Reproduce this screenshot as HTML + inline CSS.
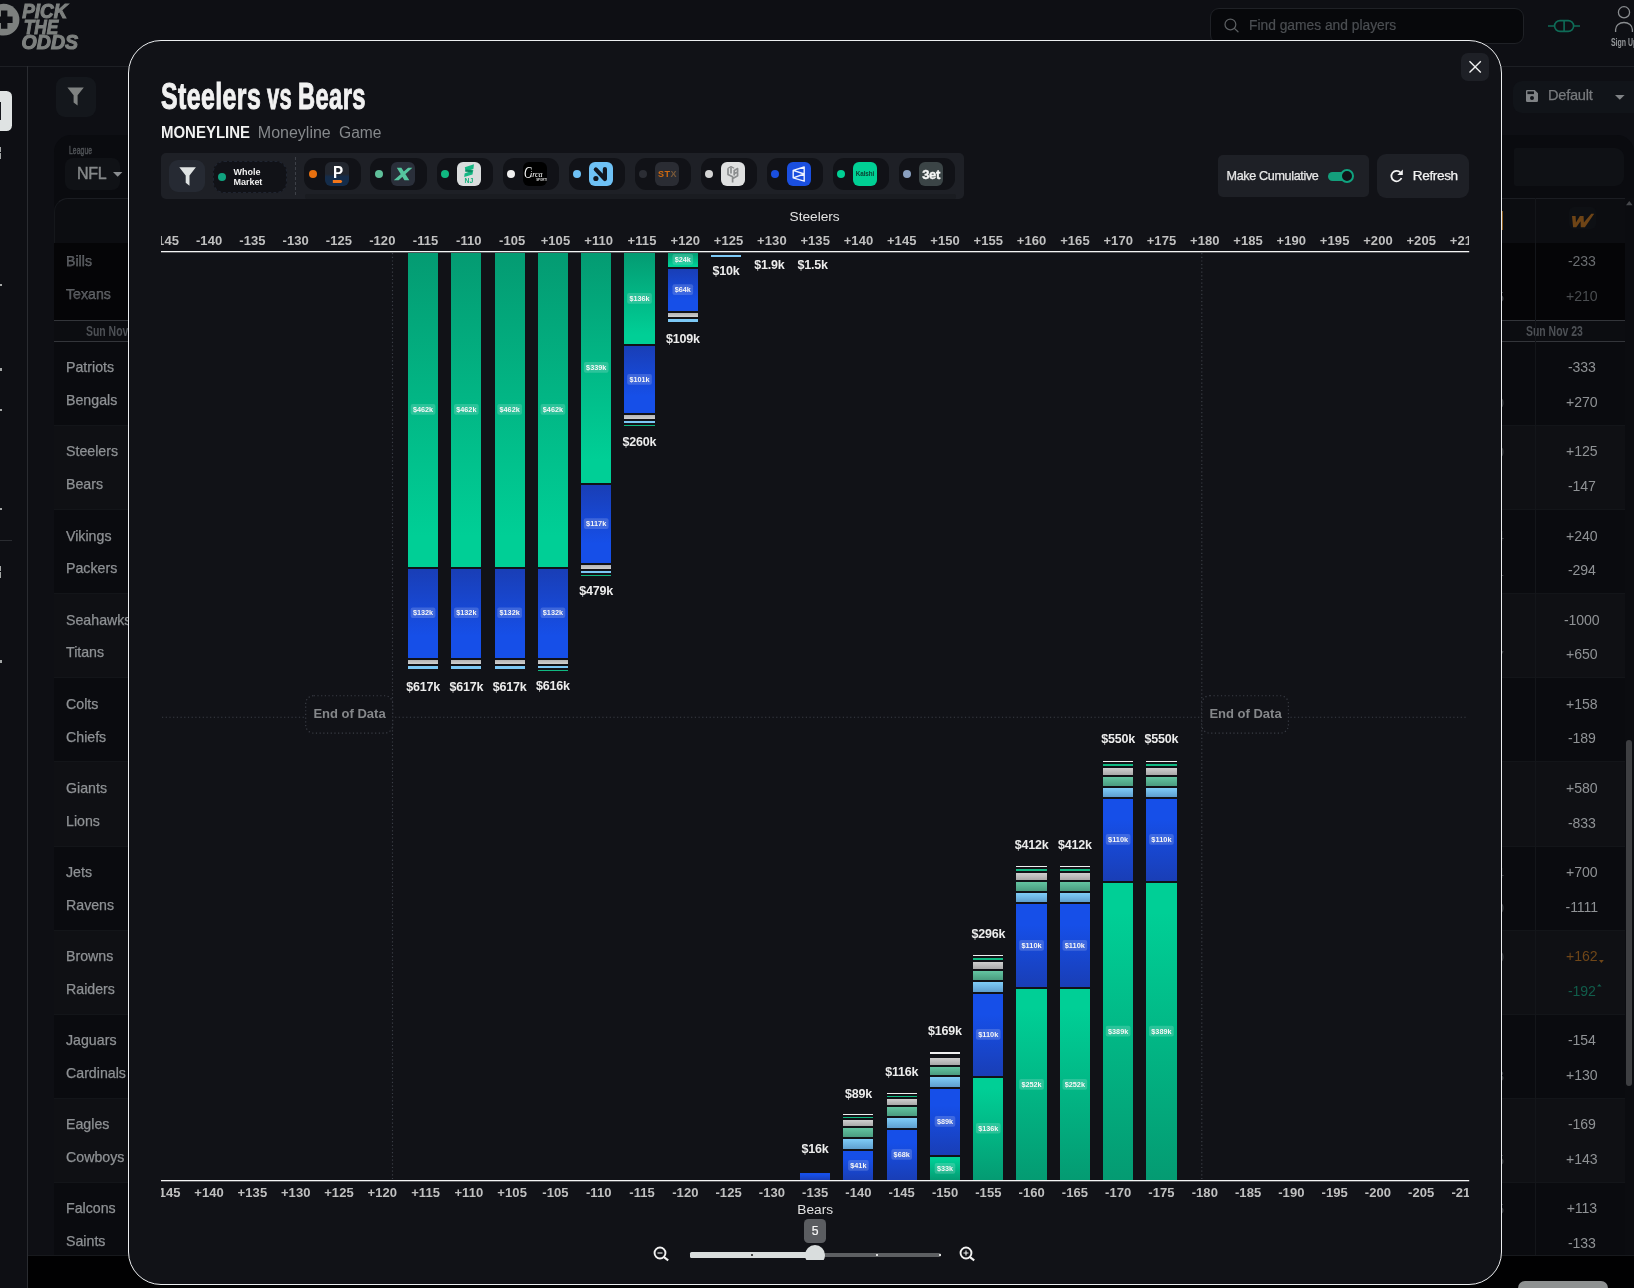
<!DOCTYPE html>
<html lang="en"><head><meta charset="utf-8"><title>Steelers vs Bears - Moneyline</title>
<style>
*{box-sizing:border-box;margin:0;padding:0}
html,body{width:1634px;height:1288px;overflow:hidden;background:#0e0f14;font-family:"Liberation Sans", sans-serif;color:#e6e6e6}
.abs{position:absolute}
#root{position:absolute;left:0;top:0;width:1634px;height:1288px;overflow:hidden;will-change:transform}
#page{position:absolute;left:0;top:0;width:1634px;height:1288px;overflow:hidden}
#modal{position:absolute;left:128px;top:40px;width:1374px;height:1245px;background:#111217;border:1.5px solid #eceef0;border-radius:33px}
.t{position:absolute;white-space:nowrap;line-height:1}
.team{position:absolute;left:66px;font-size:14.2px;color:#8e9194;-webkit-text-stroke:0.25px #8e9194;white-space:nowrap;line-height:1}
.odd{position:absolute;width:80px;left:1541.8px;text-align:center;font-size:14.1px;letter-spacing:-0.1px;color:#8f9295;white-space:nowrap;line-height:1}
.chip{position:absolute;top:158px;height:32px;border-radius:11px;background:#111217}
.dot{position:absolute;right:43.9px;top:12px;width:8px;height:8px;border-radius:50%}
.ico{position:absolute;right:11.8px;top:4px;width:24px;height:24px;border-radius:6px;overflow:hidden}
</style></head>
<body>
<div id="root">
<div id="page">
<div class="abs" style="left:0;top:66px;width:1634px;height:1px;background:#1d1f24"></div>
<div class="abs" style="left:27px;top:66px;width:1px;height:1222px;background:#2a2c31"></div>
<div class="abs" style="left:-20px;top:91px;width:32.3px;height:40px;border-radius:5.5px;background:#dfe3e3"></div>
<div class="abs" style="left:0;top:102px;width:1px;height:18px;background:#16181d"></div>
<div class="abs" style="left:0;top:147px;width:1.4px;height:4.5px;background:#a4a7a7"></div>
<div class="abs" style="left:0;top:153px;width:1.4px;height:5.5px;background:#a4a7a7"></div>
<div class="abs" style="left:0;top:284px;width:1.5px;height:2px;background:#a4a7a7"></div>
<div class="abs" style="left:0;top:368px;width:2px;height:2.5px;background:#a4a7a7"></div>
<div class="abs" style="left:0;top:409px;width:1.5px;height:2px;background:#a4a7a7"></div>
<div class="abs" style="left:0;top:508px;width:1.5px;height:2px;background:#a4a7a7"></div>
<div class="abs" style="left:0;top:566px;width:1.4px;height:4.5px;background:#a4a7a7"></div>
<div class="abs" style="left:0;top:572px;width:1.4px;height:5.5px;background:#a4a7a7"></div>
<div class="abs" style="left:0;top:660px;width:2px;height:2.5px;background:#a4a7a7"></div>
<div class="abs" style="left:0;top:540px;width:12px;height:1px;background:#2a2c31"></div>
<svg class="abs" style="left:0;top:0" width="100" height="60" viewBox="0 0 100 60"><circle cx="3.5" cy="19.7" r="15.9" fill="#7d807f"/><path d="M1 10.6h6.4v5.9h5.2v6.4H7.4v5.9H1v-5.9h-6v-6.4h6z" fill="#0e0f14"/><rect x="-4" y="12" width="8" height="15" fill="#7d807f" opacity="0"/><g font-family='"Liberation Sans", sans-serif' font-weight="700" font-style="italic" font-size="20.3" fill="#7d807f" stroke="#7d807f" stroke-width="1.1"><text x="22.3" y="18.2" textLength="45" lengthAdjust="spacingAndGlyphs">PICK</text><text x="23.8" y="33.6" textLength="34.5" lengthAdjust="spacingAndGlyphs">THE</text><text x="21.6" y="49.3" textLength="56.5" lengthAdjust="spacingAndGlyphs">ODDS</text></g></svg>
<div class="abs" style="left:56px;top:77px;width:40px;height:40px;border-radius:9px;background:#14171c"></div>
<svg class="abs" style="left:66.8px;top:87.4px" width="18" height="20" viewBox="0 0 18 20"><path d="M0.4 0.4h16.4L10.6 8.3v10.3L6.6 15.6V8.3z" fill="#7f8281"/></svg>
<div class="abs" style="left:54px;top:135px;width:120px;height:80px;border-radius:17px 0 0 0;background:#0a0b0f"></div>
<div class="t" style="left:69.2px;top:144.8px;font-size:10.5px;color:#4f5256;transform:scaleX(0.64);transform-origin:0 0;letter-spacing:0.2px;-webkit-text-stroke:0.5px #4f5256">League</div>
<div class="abs" style="left:65px;top:158px;width:54.5px;height:32px;border-radius:8px;background:#101216"></div>
<div class="t" style="left:77px;top:165.6px;font-size:16px;color:#858889;letter-spacing:-0.35px;-webkit-text-stroke:0.45px #858889">NFL</div>
<svg class="abs" style="left:113.4px;top:171.6px" width="10" height="6"><path d="M0 0h9.4L4.7 4.8z" fill="#8a8d90"/></svg>
<div class="abs" style="left:53.5px;top:198px;width:120px;height:1057px;border-radius:14px 0 0 0;background:#0c0d11;border-top:1px solid #1b1d22;border-left:1px solid #15171b"></div>
<div class="abs" style="left:54px;top:242.5px;width:120px;height:77.5px;background:#050507"></div>
<div class="abs" style="left:54px;top:320px;width:120px;height:21.5px;background:#0c0d11;border-top:1px solid #33353a;border-bottom:1px solid #33353a"></div>
<div class="t" style="left:86px;top:323.6px;font-size:14.5px;font-weight:700;color:#4d5055;transform:scaleX(0.72);transform-origin:0 0">Sun Nov 23</div>
<div class="abs" style="left:54px;top:342px;width:120px;height:83.83px;background:#0a0b0f;"></div>
<div class="team" style="top:360.30px">Patriots</div>
<div class="team" style="top:393.10px">Bengals</div>
<div class="abs" style="left:54px;top:425.0px;width:120px;height:85px;background:#0f1014;border-top:1px solid #131519"></div>
<div class="team" style="top:444.40px">Steelers</div>
<div class="team" style="top:477.20px">Bears</div>
<div class="abs" style="left:54px;top:509.1px;width:120px;height:85px;background:#0a0b0f;border-top:1px solid #131519"></div>
<div class="team" style="top:528.50px">Vikings</div>
<div class="team" style="top:561.30px">Packers</div>
<div class="abs" style="left:54px;top:593.2px;width:120px;height:85px;background:#0f1014;border-top:1px solid #131519"></div>
<div class="team" style="top:612.60px">Seahawks</div>
<div class="team" style="top:645.40px">Titans</div>
<div class="abs" style="left:54px;top:677.3px;width:120px;height:85px;background:#0a0b0f;border-top:1px solid #131519"></div>
<div class="team" style="top:696.70px">Colts</div>
<div class="team" style="top:729.50px">Chiefs</div>
<div class="abs" style="left:54px;top:761.4px;width:120px;height:85px;background:#0f1014;border-top:1px solid #131519"></div>
<div class="team" style="top:780.80px">Giants</div>
<div class="team" style="top:813.60px">Lions</div>
<div class="abs" style="left:54px;top:845.5px;width:120px;height:85px;background:#0a0b0f;border-top:1px solid #131519"></div>
<div class="team" style="top:864.90px">Jets</div>
<div class="team" style="top:897.70px">Ravens</div>
<div class="abs" style="left:54px;top:929.6px;width:120px;height:85px;background:#0f1014;border-top:1px solid #131519"></div>
<div class="team" style="top:949.00px">Browns</div>
<div class="team" style="top:981.80px">Raiders</div>
<div class="abs" style="left:54px;top:1013.7px;width:120px;height:85px;background:#0a0b0f;border-top:1px solid #131519"></div>
<div class="team" style="top:1033.10px">Jaguars</div>
<div class="team" style="top:1065.90px">Cardinals</div>
<div class="abs" style="left:54px;top:1097.8px;width:120px;height:85px;background:#0f1014;border-top:1px solid #131519"></div>
<div class="team" style="top:1117.20px">Eagles</div>
<div class="team" style="top:1150.00px">Cowboys</div>
<div class="abs" style="left:54px;top:1181.9px;width:120px;height:73.1px;background:#0a0b0f;border-top:1px solid #131519"></div>
<div class="team" style="top:1201.30px">Falcons</div>
<div class="team" style="top:1234.10px">Saints</div>
<div class="team" style="top:254.2px;color:#4a4d52">Bills</div>
<div class="team" style="top:287.2px;color:#4a4d52">Texans</div>
<div class="abs" style="left:28px;top:1255px;width:1606px;height:33px;background:#010102;border-top:1px solid #17191d"></div>
<div class="abs" style="left:1518.3px;top:1281.3px;width:90px;height:14px;border-radius:7px;background:#8e9191"></div>
<div class="abs" style="left:1210px;top:8px;width:314px;height:36px;border-radius:9px;background:#07080b;border:1px solid #1f2126"></div>
<svg class="abs" style="left:1223.4px;top:17.2px" width="18" height="18" viewBox="0 0 18 18"><circle cx="7.4" cy="7.4" r="5.4" fill="none" stroke="#5c5f62" stroke-width="1.25"/><path d="M11.4 11.4L15 14.8" stroke="#5c5f62" stroke-width="1.25" stroke-linecap="round"/></svg>
<div class="t" style="left:1249px;top:19.2px;font-size:13.8px;color:#4b4e52;-webkit-text-stroke:0.2px #4b4e52">Find games and players</div>
<svg class="abs" style="left:1546px;top:18px" width="36" height="16" viewBox="0 0 36 16"><g fill="none" stroke="#0f6b57" stroke-width="1.6"><rect x="8.6" y="2.6" width="19" height="10.8" rx="5.4"/><path d="M2 8h6.6M27.6 8h6.4M18.1 2.6v10.8"/></g></svg>
<svg class="abs" style="left:1610px;top:4px" width="28" height="30" viewBox="0 0 28 30"><g fill="none" stroke="#8a8d90" stroke-width="1.3"><circle cx="14" cy="8.3" r="5.6"/><path d="M5.6 28v-2.5a8.4 7 0 0 1 16.8 0V28"/></g></svg>
<div class="t" style="left:1610.5px;top:36.6px;font-size:10.5px;font-weight:700;color:#94979a;transform:scaleX(0.66);transform-origin:0 0">Sign Up</div>
<div class="abs" style="left:1512.5px;top:81px;width:130px;height:32px;border-radius:9px;background:#111419"></div>
<svg class="abs" style="left:1526px;top:90.3px" width="12" height="12" viewBox="0 0 12 12"><path d="M1.3 0h7.4L12 3.3v7.4A1.3 1.3 0 0 1 10.7 12H1.3A1.3 1.3 0 0 1 0 10.7V1.3A1.3 1.3 0 0 1 1.3 0z" fill="#7f8285"/><rect x="1.4" y="1.4" width="6.6" height="2.7" fill="#111419"/><circle cx="6" cy="8" r="2" fill="#111419"/></svg>
<div class="t" style="left:1548px;top:87.8px;font-size:14.6px;color:#777a7d;letter-spacing:-0.25px;-webkit-text-stroke:0.25px #777a7d">Default</div>
<svg class="abs" style="left:1615.2px;top:94.7px" width="10" height="6"><path d="M0 0h9.6L4.8 4.8z" fill="#808386"/></svg>
<div class="abs" style="left:1480px;top:135px;width:154px;height:70px;border-radius:0 17px 0 0;background:#0a0b0f"></div>
<div class="abs" style="left:1514px;top:148px;width:109.5px;height:37.5px;border-radius:2px 9px 9px 2px;background:#0f1115"></div>
<div class="abs" style="left:1480px;top:198px;width:144.5px;height:1057px;background:#0c0d11;border-top:1px solid #1b1d22"></div>
<div class="abs" style="left:1624.5px;top:198px;width:10px;height:1057px;background:#0b0c10"></div>
<div class="abs" style="left:1480px;top:242.5px;width:144.5px;height:77.5px;background:#050507"></div>
<div class="abs" style="left:1480px;top:320px;width:144.5px;height:21.5px;background:#0c0d11;border-top:1px solid #33353a;border-bottom:1px solid #33353a"></div>
<div class="t" style="left:1526px;top:323.6px;font-size:14.5px;font-weight:700;color:#4d5055;transform:scaleX(0.72);transform-origin:0 0">Sun Nov 23</div>
<div class="abs" style="left:1480px;top:342px;width:144.5px;height:83.83px;background:#0a0b0f;"></div>
<div class="odd" style="top:360.30px;color:#8f9295">-333</div>
<div class="odd" style="top:395.00px;color:#8f9295">+270</div>
<div class="abs" style="left:1480px;top:425.0px;width:144.5px;height:85px;background:#0f1014;border-top:1px solid #131519"></div>
<div class="odd" style="top:444.40px;color:#8f9295">+125</div>
<div class="odd" style="top:479.10px;color:#8f9295">-147</div>
<div class="abs" style="left:1480px;top:509.1px;width:144.5px;height:85px;background:#0a0b0f;border-top:1px solid #131519"></div>
<div class="odd" style="top:528.50px;color:#8f9295">+240</div>
<div class="odd" style="top:563.20px;color:#8f9295">-294</div>
<div class="abs" style="left:1480px;top:593.2px;width:144.5px;height:85px;background:#0f1014;border-top:1px solid #131519"></div>
<div class="odd" style="top:612.60px;color:#8f9295">-1000</div>
<div class="odd" style="top:647.30px;color:#8f9295">+650</div>
<div class="abs" style="left:1480px;top:677.3px;width:144.5px;height:85px;background:#0a0b0f;border-top:1px solid #131519"></div>
<div class="odd" style="top:696.70px;color:#8f9295">+158</div>
<div class="odd" style="top:731.40px;color:#8f9295">-189</div>
<div class="abs" style="left:1480px;top:761.4px;width:144.5px;height:85px;background:#0f1014;border-top:1px solid #131519"></div>
<div class="odd" style="top:780.80px;color:#8f9295">+580</div>
<div class="odd" style="top:815.50px;color:#8f9295">-833</div>
<div class="abs" style="left:1480px;top:845.5px;width:144.5px;height:85px;background:#0a0b0f;border-top:1px solid #131519"></div>
<div class="odd" style="top:864.90px;color:#8f9295">+700</div>
<div class="odd" style="top:899.60px;color:#8f9295">-1111</div>
<div class="abs" style="left:1480px;top:929.6px;width:144.5px;height:85px;background:#0f1014;border-top:1px solid #131519"></div>
<div class="odd" style="top:949.00px;color:#6f4618">+162</div>
<div class="odd" style="top:983.70px;color:#115d4b">-192</div>
<div class="abs" style="left:1480px;top:1013.7px;width:144.5px;height:85px;background:#0a0b0f;border-top:1px solid #131519"></div>
<div class="odd" style="top:1033.10px;color:#8f9295">-154</div>
<div class="odd" style="top:1067.80px;color:#8f9295">+130</div>
<div class="abs" style="left:1480px;top:1097.8px;width:144.5px;height:85px;background:#0f1014;border-top:1px solid #131519"></div>
<div class="odd" style="top:1117.20px;color:#8f9295">-169</div>
<div class="odd" style="top:1151.90px;color:#8f9295">+143</div>
<div class="abs" style="left:1480px;top:1181.9px;width:144.5px;height:73.1px;background:#0a0b0f;border-top:1px solid #131519"></div>
<div class="odd" style="top:1201.30px;color:#8f9295">+113</div>
<div class="odd" style="top:1236.00px;color:#8f9295">-133</div>
<div class="odd" style="top:254.3px;color:#6a6d70">-233</div>
<div class="odd" style="top:289.3px;color:#4a4d50">+210</div>
<svg class="abs" style="left:1598.5px;top:960.2px" width="6" height="4"><path d="M0 0h4.8L2.4 3.1z" fill="#6f4618"/></svg>
<svg class="abs" style="left:1596.7px;top:983.7px" width="6" height="4"><path d="M0 2.4h4.6L2.3 0z" fill="#115d4b"/></svg>
<div class="abs" style="left:1535px;top:198px;width:1px;height:1057px;background:#14161a"></div>
<div class="abs" style="left:1569.3px;top:206.8px;width:26.5px;height:22px;border-radius:5px;background:#0e1014"></div>
<svg class="abs" style="left:1571px;top:213px" width="25" height="16" viewBox="0 0 25 16"><path d="M1 3.1H4.6L5 9.6 8.9 3.1H12.55L12.9 9.4 20.25 0.8H23.2L13.9 14.2H9.8L9.6 8.2 5.3 14.2H2.1z" fill="#6e4416"/></svg>
<div class="abs" style="left:1499px;top:211px;width:4px;height:19px;background:#8a5a1a"></div>
<svg class="abs" style="left:1625.6px;top:201.4px" width="8" height="6"><path d="M0 4.2h6.6L3.3 0z" fill="#46484c"/></svg>
<div class="abs" style="left:1626px;top:740px;width:6px;height:346px;border-radius:3px;background:#3e3f42"></div>
<div class="t" style="left:1496px;top:289.5px;font-size:14.5px;color:#3c3f43">5</div>
<div class="t" style="left:1496px;top:395.5px;font-size:14.5px;color:#3c3f43">0</div>
<div class="t" style="left:1496px;top:444.5px;font-size:14.5px;color:#3c3f43">0</div>
<div class="t" style="left:1496px;top:528.5px;font-size:14.5px;color:#3c3f43">4</div>
<div class="t" style="left:1496px;top:563.5px;font-size:14.5px;color:#3c3f43">1</div>
<div class="t" style="left:1496px;top:648.5px;font-size:14.5px;color:#3c3f43">7</div>
<div class="t" style="left:1496px;top:866px;font-size:14.5px;color:#3c3f43">4</div>
<div class="t" style="left:1496px;top:901px;font-size:14.5px;color:#3c3f43">0</div>
<div class="t" style="left:1496px;top:949.5px;font-size:14.5px;color:#3c3f43">0</div>
<div class="t" style="left:1496px;top:1068.5px;font-size:14.5px;color:#3c3f43">3</div>
<div class="t" style="left:1496px;top:1152.5px;font-size:14.5px;color:#3c3f43">5</div>
<div class="t" style="left:1496px;top:1201.5px;font-size:14.5px;color:#3c3f43">5</div>
</div>
<div id="modal"></div>
<div class="t" id="title" style="left:0;top:79.1px;width:500px;height:40px;font-size:36.6px;font-weight:700;color:#f1f1f1;-webkit-text-stroke:1px #f1f1f1;letter-spacing:0.6px"><span style="position:absolute;left:160.85px;top:0;transform-origin:0 0;transform:scaleX(0.681)">Steelers</span> <span style="position:absolute;left:267px;top:0;transform-origin:0 0;transform:scaleX(0.6)">vs</span> <span style="position:absolute;left:297.6px;top:0;transform-origin:0 0;transform:scaleX(0.648)">Bears</span></div>
<div class="t" style="left:160.6px;top:125.3px;font-size:16px;font-weight:700;color:#f1f1f1;transform:scaleX(0.936);transform-origin:0 0">MONEYLINE</div>
<div class="t" style="left:257.8px;top:125.1px;font-size:16px;color:#85888b">Moneyline</div>
<div class="t" style="left:339px;top:125.1px;font-size:15.6px;color:#85888b">Game</div>
<div class="abs" style="left:1461px;top:53.3px;width:28px;height:27.5px;border-radius:7px;background:#1e2026"></div>
<svg class="abs" style="left:1468px;top:60px" width="14" height="14" viewBox="0 0 14 14"><path d="M1.5 1.2L12.8 12.6M12.8 1.2L1.5 12.6" stroke="#f0f0f0" stroke-width="1.4" fill="none"/></svg>
<div class="abs" style="left:160.5px;top:153px;width:803.5px;height:46px;border-radius:5px;background:#1e2026"></div>
<div class="abs" style="left:304.5px;top:193.5px;width:651px;height:5.5px;border-radius:2px;background:#1a1c21"></div>
<div class="abs" style="left:169px;top:160px;width:36px;height:32px;border-radius:9px;background:#262a33"></div>
<svg class="abs" style="left:178.5px;top:166.5px" width="18" height="20" viewBox="0 0 18 20"><path d="M0.3 0.3h16.6L10.5 8.4v10.4L6.7 15.7V8.4z" fill="#dfe3e3"/></svg>
<div class="abs" style="left:213.3px;top:161px;width:73.8px;height:31.8px;border-radius:11px;background:#111217;border:1px dashed #1f2430"></div>
<div class="abs" style="left:218px;top:172.8px;width:8.2px;height:8.2px;border-radius:50%;background:#10a37f"></div>
<div class="t" style="left:233.6px;top:167.4px;font-size:9px;font-weight:700;color:#f0f0f0;line-height:10px;white-space:normal;width:40px;letter-spacing:-0.05px">Whole<br>Market</div>
<div class="abs" style="left:295px;top:157px;width:0;height:38px;border-left:1px dashed #3d4047"></div>
<div class="chip" style="left:304.30px;width:56.60px"><div class="dot" style="background:#e8700f"></div><div class="ico" style="background:linear-gradient(#22262e 0 50%,#142c4a 62% 100%)"><div class="t" style="left:7.5px;top:1.9px;font-size:16.5px;font-weight:700;color:#fff;transform:scaleX(0.92);transform-origin:0 0">P</div><svg class="abs" style="left:0;top:0" width="24" height="24" viewBox="0 0 24 24"><path d="M7.8 18h8.3l1.2 1.55-1.2 1.55H7.8z" fill="#f2761a"/></svg></div></div>
<div class="chip" style="left:370.40px;width:56.51px"><div class="dot" style="background:#5fbf9a"></div><div class="ico" style="background:#2a2f3a"><svg class="abs" style="left:0;top:0" width="24" height="24" viewBox="0 0 24 24"><path d="M5.8 5.8H10.4L18.35 18.3H13.45z M17.1 5.8H21.4L7.65 18.3H2.75z" fill="#55c59f"/></svg></div></div>
<div class="chip" style="left:436.50px;width:56.42px"><div class="dot" style="background:#10b981"></div><div class="ico" style="background:#dadddd"><svg class="abs" style="left:0;top:0" width="24" height="24" viewBox="0 0 24 24"><path d="M7.8 5.3L17 2.3 16.4 6.9 8.6 9.7z" fill="#14b783"/><path d="M7.6 11.6L16.3 8 15.5 12.6 7.2 14.9z" fill="#14b783"/><path d="M8.6 7.4L16 8.2 14.6 10.6 8.2 9.6z" fill="#0d8a63"/></svg><div class="t" style="left:7.4px;top:16.4px;font-size:6.8px;font-weight:700;color:#14b07c;letter-spacing:0.15px">NJ</div></div></div>
<div class="chip" style="left:502.60px;width:56.33px"><div class="dot" style="background:#f0f0f0"></div><div class="ico" style="background:#000"><div class="t" style="left:0.6px;top:2.9px;font-size:16.5px;font-style:italic;color:#fff;font-family:'Liberation Serif',serif;transform:scaleX(0.68);transform-origin:0 0">C</div><div class="t" style="left:6.9px;top:9.4px;font-size:8.2px;font-style:italic;color:#fff;font-family:'Liberation Serif',serif;letter-spacing:-0.1px">irca</div><div class="t" style="left:13px;top:16.8px;font-size:2.9px;font-weight:700;color:#ddd;letter-spacing:0px">SPORTS</div></div></div>
<div class="chip" style="left:568.70px;width:56.24px"><div class="dot" style="background:#6ec1f5"></div><div class="ico" style="background:#6ec1f5"><svg class="abs" style="left:0;top:0" width="24" height="24" viewBox="0 0 24 24"><path d="M6.8 7.4L15.9 17V7" fill="none" stroke="#12161f" stroke-width="4.2" stroke-linecap="round" stroke-linejoin="round"/><circle cx="6.9" cy="16.5" r="2.6" fill="#12161f"/></svg></div></div>
<div class="chip" style="left:634.80px;width:56.15px"><div class="dot" style="background:#2b2d34"></div><div class="ico" style="background:#2a2c33"><div class="t" style="left:2.8px;top:7.6px;font-size:9px;font-weight:700;color:#d06a10;letter-spacing:0.5px">ST<span style="color:#7a5a3a">X</span></div></div></div>
<div class="chip" style="left:700.90px;width:56.06px"><div class="dot" style="background:#d4d4d4"></div><div class="ico" style="background:#dfe0e0"><svg class="abs" style="left:0;top:0" width="24" height="24" viewBox="0 0 24 24"><g fill="none" stroke="#8b8d8e" stroke-width="1.7" stroke-linejoin="round"><path d="M7 6.2v6.2l4.6 2.4V20.4M10 5.2v6.4M13.2 13.6V8.4l3.4-1.8v3.2l-3 1.6M16.6 10.4v3.4l-4.8 2.6"/><path d="M7 6.2l3-1.6 3.2 1.6" stroke-width="1.2"/></g></svg></div></div>
<div class="chip" style="left:767.00px;width:55.97px"><div class="dot" style="background:#1a4fe0"></div><div class="ico" style="background:#1a4fe0"><svg class="abs" style="left:0;top:0" width="24" height="24" viewBox="0 0 24 24"><path d="M6.2 8.4L17.2 5v14.2L6.2 15.8zM6.2 8.4L17.2 12 6.2 15.8" fill="none" stroke="#eef2ff" stroke-width="1.4" stroke-linejoin="round"/></svg></div></div>
<div class="chip" style="left:833.10px;width:55.88px"><div class="dot" style="background:#00d094"></div><div class="ico" style="background:#00d094"><div class="t" style="left:2.7px;top:9.2px;font-size:6.3px;font-weight:700;color:#0a3d30;letter-spacing:-0.1px">Kalshi</div></div></div>
<div class="chip" style="left:899.20px;width:55.79px"><div class="dot" style="background:#8aa0c0"></div><div class="ico" style="background:#3b4446"><div class="t" style="left:3px;top:5.6px;font-size:13px;font-weight:700;color:#f6f6f6;letter-spacing:-0.35px;-webkit-text-stroke:0.4px #f6f6f6">3et</div></div></div>
<div class="abs" style="left:1218px;top:155.2px;width:151px;height:41.5px;border-radius:5px;background:#1e2026"></div>
<div class="t" style="left:1226.6px;top:170.1px;font-size:12.6px;color:#e8e8e8;letter-spacing:-0.36px;-webkit-text-stroke:0.25px #e8e8e8">Make Cumulative</div>
<div class="abs" style="left:1328px;top:171.5px;width:24px;height:9px;border-radius:4.5px;background:#149f7c"></div>
<div class="abs" style="left:1339.6px;top:168.8px;width:14.6px;height:14.6px;border-radius:50%;background:#111217;border:2px solid #10a37f"></div>
<div class="abs" style="left:1377.2px;top:154px;width:91.8px;height:43.7px;border-radius:9px;background:#1e2026"></div>
<svg class="abs" style="left:1388.5px;top:168.2px" width="16" height="16" viewBox="0 0 16 16"><path d="M11.5 4.5A5.25 5.25 0 1 0 12.5 10" fill="none" stroke="#f2f2f2" stroke-width="1.75"/><path d="M13.8 1.6v5.4h-5.5z" fill="#f2f2f2"/></svg>
<div class="t" style="left:1412.8px;top:169px;font-size:13.6px;color:#f2f2f2;letter-spacing:-0.38px;-webkit-text-stroke:0.25px #f2f2f2">Refresh</div>
<div class="t" style="left:789.5px;top:209.9px;font-size:13.7px;color:#e2e2e2">Steelers</div>
<div class="t" style="left:797.3px;top:1202.7px;font-size:13.7px;color:#e2e2e2">Bears</div>
<div class="abs" style="left:161px;top:230px;width:1308.2px;height:20px;overflow:hidden">
<div class="t" style="left:-25.15px;top:4.3px;width:60px;text-align:center;font-size:13px;font-weight:700;color:#c0c0c0;letter-spacing:0.08px">-145</div>
<div class="t" style="left:18.14px;top:4.3px;width:60px;text-align:center;font-size:13px;font-weight:700;color:#c0c0c0;letter-spacing:0.08px">-140</div>
<div class="t" style="left:61.43px;top:4.3px;width:60px;text-align:center;font-size:13px;font-weight:700;color:#c0c0c0;letter-spacing:0.08px">-135</div>
<div class="t" style="left:104.72px;top:4.3px;width:60px;text-align:center;font-size:13px;font-weight:700;color:#c0c0c0;letter-spacing:0.08px">-130</div>
<div class="t" style="left:148.01px;top:4.3px;width:60px;text-align:center;font-size:13px;font-weight:700;color:#c0c0c0;letter-spacing:0.08px">-125</div>
<div class="t" style="left:191.30px;top:4.3px;width:60px;text-align:center;font-size:13px;font-weight:700;color:#c0c0c0;letter-spacing:0.08px">-120</div>
<div class="t" style="left:234.59px;top:4.3px;width:60px;text-align:center;font-size:13px;font-weight:700;color:#c0c0c0;letter-spacing:0.08px">-115</div>
<div class="t" style="left:277.88px;top:4.3px;width:60px;text-align:center;font-size:13px;font-weight:700;color:#c0c0c0;letter-spacing:0.08px">-110</div>
<div class="t" style="left:321.17px;top:4.3px;width:60px;text-align:center;font-size:13px;font-weight:700;color:#c0c0c0;letter-spacing:0.08px">-105</div>
<div class="t" style="left:364.46px;top:4.3px;width:60px;text-align:center;font-size:13px;font-weight:700;color:#c0c0c0;letter-spacing:0.08px">+105</div>
<div class="t" style="left:407.75px;top:4.3px;width:60px;text-align:center;font-size:13px;font-weight:700;color:#c0c0c0;letter-spacing:0.08px">+110</div>
<div class="t" style="left:451.04px;top:4.3px;width:60px;text-align:center;font-size:13px;font-weight:700;color:#c0c0c0;letter-spacing:0.08px">+115</div>
<div class="t" style="left:494.33px;top:4.3px;width:60px;text-align:center;font-size:13px;font-weight:700;color:#c0c0c0;letter-spacing:0.08px">+120</div>
<div class="t" style="left:537.62px;top:4.3px;width:60px;text-align:center;font-size:13px;font-weight:700;color:#c0c0c0;letter-spacing:0.08px">+125</div>
<div class="t" style="left:580.91px;top:4.3px;width:60px;text-align:center;font-size:13px;font-weight:700;color:#c0c0c0;letter-spacing:0.08px">+130</div>
<div class="t" style="left:624.20px;top:4.3px;width:60px;text-align:center;font-size:13px;font-weight:700;color:#c0c0c0;letter-spacing:0.08px">+135</div>
<div class="t" style="left:667.49px;top:4.3px;width:60px;text-align:center;font-size:13px;font-weight:700;color:#c0c0c0;letter-spacing:0.08px">+140</div>
<div class="t" style="left:710.78px;top:4.3px;width:60px;text-align:center;font-size:13px;font-weight:700;color:#c0c0c0;letter-spacing:0.08px">+145</div>
<div class="t" style="left:754.07px;top:4.3px;width:60px;text-align:center;font-size:13px;font-weight:700;color:#c0c0c0;letter-spacing:0.08px">+150</div>
<div class="t" style="left:797.36px;top:4.3px;width:60px;text-align:center;font-size:13px;font-weight:700;color:#c0c0c0;letter-spacing:0.08px">+155</div>
<div class="t" style="left:840.65px;top:4.3px;width:60px;text-align:center;font-size:13px;font-weight:700;color:#c0c0c0;letter-spacing:0.08px">+160</div>
<div class="t" style="left:883.94px;top:4.3px;width:60px;text-align:center;font-size:13px;font-weight:700;color:#c0c0c0;letter-spacing:0.08px">+165</div>
<div class="t" style="left:927.23px;top:4.3px;width:60px;text-align:center;font-size:13px;font-weight:700;color:#c0c0c0;letter-spacing:0.08px">+170</div>
<div class="t" style="left:970.52px;top:4.3px;width:60px;text-align:center;font-size:13px;font-weight:700;color:#c0c0c0;letter-spacing:0.08px">+175</div>
<div class="t" style="left:1013.81px;top:4.3px;width:60px;text-align:center;font-size:13px;font-weight:700;color:#c0c0c0;letter-spacing:0.08px">+180</div>
<div class="t" style="left:1057.10px;top:4.3px;width:60px;text-align:center;font-size:13px;font-weight:700;color:#c0c0c0;letter-spacing:0.08px">+185</div>
<div class="t" style="left:1100.39px;top:4.3px;width:60px;text-align:center;font-size:13px;font-weight:700;color:#c0c0c0;letter-spacing:0.08px">+190</div>
<div class="t" style="left:1143.68px;top:4.3px;width:60px;text-align:center;font-size:13px;font-weight:700;color:#c0c0c0;letter-spacing:0.08px">+195</div>
<div class="t" style="left:1186.97px;top:4.3px;width:60px;text-align:center;font-size:13px;font-weight:700;color:#c0c0c0;letter-spacing:0.08px">+200</div>
<div class="t" style="left:1230.26px;top:4.3px;width:60px;text-align:center;font-size:13px;font-weight:700;color:#c0c0c0;letter-spacing:0.08px">+205</div>
<div class="t" style="left:1273.55px;top:4.3px;width:60px;text-align:center;font-size:13px;font-weight:700;color:#c0c0c0;letter-spacing:0.08px">+210</div>
</div>
<div class="abs" style="left:161px;top:1182px;width:1308.2px;height:20px;overflow:hidden">
<div class="t" style="left:-25.15px;top:3.9px;width:60px;text-align:center;font-size:13px;font-weight:700;color:#c0c0c0;letter-spacing:0.08px">+145</div>
<div class="t" style="left:18.14px;top:3.9px;width:60px;text-align:center;font-size:13px;font-weight:700;color:#c0c0c0;letter-spacing:0.08px">+140</div>
<div class="t" style="left:61.43px;top:3.9px;width:60px;text-align:center;font-size:13px;font-weight:700;color:#c0c0c0;letter-spacing:0.08px">+135</div>
<div class="t" style="left:104.72px;top:3.9px;width:60px;text-align:center;font-size:13px;font-weight:700;color:#c0c0c0;letter-spacing:0.08px">+130</div>
<div class="t" style="left:148.01px;top:3.9px;width:60px;text-align:center;font-size:13px;font-weight:700;color:#c0c0c0;letter-spacing:0.08px">+125</div>
<div class="t" style="left:191.30px;top:3.9px;width:60px;text-align:center;font-size:13px;font-weight:700;color:#c0c0c0;letter-spacing:0.08px">+120</div>
<div class="t" style="left:234.59px;top:3.9px;width:60px;text-align:center;font-size:13px;font-weight:700;color:#c0c0c0;letter-spacing:0.08px">+115</div>
<div class="t" style="left:277.88px;top:3.9px;width:60px;text-align:center;font-size:13px;font-weight:700;color:#c0c0c0;letter-spacing:0.08px">+110</div>
<div class="t" style="left:321.17px;top:3.9px;width:60px;text-align:center;font-size:13px;font-weight:700;color:#c0c0c0;letter-spacing:0.08px">+105</div>
<div class="t" style="left:364.46px;top:3.9px;width:60px;text-align:center;font-size:13px;font-weight:700;color:#c0c0c0;letter-spacing:0.08px">-105</div>
<div class="t" style="left:407.75px;top:3.9px;width:60px;text-align:center;font-size:13px;font-weight:700;color:#c0c0c0;letter-spacing:0.08px">-110</div>
<div class="t" style="left:451.04px;top:3.9px;width:60px;text-align:center;font-size:13px;font-weight:700;color:#c0c0c0;letter-spacing:0.08px">-115</div>
<div class="t" style="left:494.33px;top:3.9px;width:60px;text-align:center;font-size:13px;font-weight:700;color:#c0c0c0;letter-spacing:0.08px">-120</div>
<div class="t" style="left:537.62px;top:3.9px;width:60px;text-align:center;font-size:13px;font-weight:700;color:#c0c0c0;letter-spacing:0.08px">-125</div>
<div class="t" style="left:580.91px;top:3.9px;width:60px;text-align:center;font-size:13px;font-weight:700;color:#c0c0c0;letter-spacing:0.08px">-130</div>
<div class="t" style="left:624.20px;top:3.9px;width:60px;text-align:center;font-size:13px;font-weight:700;color:#c0c0c0;letter-spacing:0.08px">-135</div>
<div class="t" style="left:667.49px;top:3.9px;width:60px;text-align:center;font-size:13px;font-weight:700;color:#c0c0c0;letter-spacing:0.08px">-140</div>
<div class="t" style="left:710.78px;top:3.9px;width:60px;text-align:center;font-size:13px;font-weight:700;color:#c0c0c0;letter-spacing:0.08px">-145</div>
<div class="t" style="left:754.07px;top:3.9px;width:60px;text-align:center;font-size:13px;font-weight:700;color:#c0c0c0;letter-spacing:0.08px">-150</div>
<div class="t" style="left:797.36px;top:3.9px;width:60px;text-align:center;font-size:13px;font-weight:700;color:#c0c0c0;letter-spacing:0.08px">-155</div>
<div class="t" style="left:840.65px;top:3.9px;width:60px;text-align:center;font-size:13px;font-weight:700;color:#c0c0c0;letter-spacing:0.08px">-160</div>
<div class="t" style="left:883.94px;top:3.9px;width:60px;text-align:center;font-size:13px;font-weight:700;color:#c0c0c0;letter-spacing:0.08px">-165</div>
<div class="t" style="left:927.23px;top:3.9px;width:60px;text-align:center;font-size:13px;font-weight:700;color:#c0c0c0;letter-spacing:0.08px">-170</div>
<div class="t" style="left:970.52px;top:3.9px;width:60px;text-align:center;font-size:13px;font-weight:700;color:#c0c0c0;letter-spacing:0.08px">-175</div>
<div class="t" style="left:1013.81px;top:3.9px;width:60px;text-align:center;font-size:13px;font-weight:700;color:#c0c0c0;letter-spacing:0.08px">-180</div>
<div class="t" style="left:1057.10px;top:3.9px;width:60px;text-align:center;font-size:13px;font-weight:700;color:#c0c0c0;letter-spacing:0.08px">-185</div>
<div class="t" style="left:1100.39px;top:3.9px;width:60px;text-align:center;font-size:13px;font-weight:700;color:#c0c0c0;letter-spacing:0.08px">-190</div>
<div class="t" style="left:1143.68px;top:3.9px;width:60px;text-align:center;font-size:13px;font-weight:700;color:#c0c0c0;letter-spacing:0.08px">-195</div>
<div class="t" style="left:1186.97px;top:3.9px;width:60px;text-align:center;font-size:13px;font-weight:700;color:#c0c0c0;letter-spacing:0.08px">-200</div>
<div class="t" style="left:1230.26px;top:3.9px;width:60px;text-align:center;font-size:13px;font-weight:700;color:#c0c0c0;letter-spacing:0.08px">-205</div>
<div class="t" style="left:1273.55px;top:3.9px;width:60px;text-align:center;font-size:13px;font-weight:700;color:#c0c0c0;letter-spacing:0.08px">-210</div>
</div>
<svg class="abs" style="left:0;top:0" width="1634" height="1288" viewBox="0 0 1634 1288">
<defs>
<linearGradient id="gT" x1="0" y1="0" x2="0" y2="1"><stop offset="0" stop-color="#049b72"/><stop offset="0.9" stop-color="#00cf96"/><stop offset="1" stop-color="#00cf96"/></linearGradient>
<linearGradient id="gB" x1="0" y1="0" x2="0" y2="1"><stop offset="0" stop-color="#00cf96"/><stop offset="0.1" stop-color="#00cf96"/><stop offset="1" stop-color="#049b72"/></linearGradient>
<linearGradient id="bT" x1="0" y1="0" x2="0" y2="1"><stop offset="0" stop-color="#193eb6"/><stop offset="0.75" stop-color="#164fe8"/><stop offset="1" stop-color="#164fe8"/></linearGradient>
<linearGradient id="bB" x1="0" y1="0" x2="0" y2="1"><stop offset="0" stop-color="#164fe8"/><stop offset="0.25" stop-color="#164fe8"/><stop offset="1" stop-color="#193eb6"/></linearGradient>
<linearGradient id="lB" x1="0" y1="0" x2="0" y2="1"><stop offset="0" stop-color="#7fccf7"/><stop offset="1" stop-color="#5e9fd0"/></linearGradient>
<linearGradient id="tB" x1="0" y1="0" x2="0" y2="1"><stop offset="0" stop-color="#63c3a0"/><stop offset="1" stop-color="#4a9c80"/></linearGradient>
<linearGradient id="yB" x1="0" y1="0" x2="0" y2="1"><stop offset="0" stop-color="#cfcfcf"/><stop offset="1" stop-color="#a9a9a9"/></linearGradient>
<linearGradient id="yT" x1="0" y1="0" x2="0" y2="1"><stop offset="0" stop-color="#b4b4b4"/><stop offset="1" stop-color="#cfcfcf"/></linearGradient>
</defs>
<g stroke="#3b3e46" stroke-width="1.15" stroke-dasharray="1.2 2.5" fill="none">
<path d="M162 717.2H1468"/>
<path d="M392.5 253V1179"/>
<path d="M1201.8 253V1179"/>
</g>
<rect x="305.7" y="695.7" width="87" height="37.4" rx="8" fill="#111217" stroke="#3b3e46" stroke-width="1.15" stroke-dasharray="1.2 2.5"/>
<rect x="1201.8" y="695.7" width="86.6" height="37.4" rx="8" fill="#111217" stroke="#3b3e46" stroke-width="1.15" stroke-dasharray="1.2 2.5"/>
<rect x="161" y="251" width="1308.2" height="1.3" fill="#f4f4f4"/>
<rect x="161" y="1180" width="1308.2" height="1.3" fill="#f4f4f4"/>
<rect x="407.95" y="253.00" width="30.2" height="313.90" fill="url(#gT)" shape-rendering="crispEdges"/>
<rect x="407.95" y="569.00" width="30.2" height="88.90" fill="url(#bT)" shape-rendering="crispEdges"/>
<rect x="407.95" y="660.00" width="30.2" height="4.00" fill="url(#yT)" shape-rendering="crispEdges"/>
<rect x="407.95" y="666.00" width="30.2" height="3.00" fill="#7cc8f5" shape-rendering="crispEdges"/>
<rect x="451.24" y="253.00" width="30.2" height="313.90" fill="url(#gT)" shape-rendering="crispEdges"/>
<rect x="451.24" y="569.00" width="30.2" height="88.90" fill="url(#bT)" shape-rendering="crispEdges"/>
<rect x="451.24" y="660.00" width="30.2" height="4.00" fill="url(#yT)" shape-rendering="crispEdges"/>
<rect x="451.24" y="666.00" width="30.2" height="3.00" fill="#7cc8f5" shape-rendering="crispEdges"/>
<rect x="494.53" y="253.00" width="30.2" height="313.90" fill="url(#gT)" shape-rendering="crispEdges"/>
<rect x="494.53" y="569.00" width="30.2" height="88.90" fill="url(#bT)" shape-rendering="crispEdges"/>
<rect x="494.53" y="660.00" width="30.2" height="4.00" fill="url(#yT)" shape-rendering="crispEdges"/>
<rect x="494.53" y="666.00" width="30.2" height="3.00" fill="#7cc8f5" shape-rendering="crispEdges"/>
<rect x="537.82" y="253.00" width="30.2" height="313.90" fill="url(#gT)" shape-rendering="crispEdges"/>
<rect x="537.82" y="569.00" width="30.2" height="88.90" fill="url(#bT)" shape-rendering="crispEdges"/>
<rect x="537.82" y="660.00" width="30.2" height="4.00" fill="url(#yT)" shape-rendering="crispEdges"/>
<rect x="537.82" y="666.20" width="30.2" height="2.00" fill="#7cc8f5" shape-rendering="crispEdges"/>
<rect x="537.82" y="670.00" width="30.2" height="1.00" fill="#10b981" shape-rendering="crispEdges"/>
<rect x="581.11" y="253.00" width="30.2" height="229.90" fill="url(#gT)" shape-rendering="crispEdges"/>
<rect x="581.11" y="485.00" width="30.2" height="77.90" fill="url(#bT)" shape-rendering="crispEdges"/>
<rect x="581.11" y="565.00" width="30.2" height="4.00" fill="url(#yT)" shape-rendering="crispEdges"/>
<rect x="581.11" y="571.00" width="30.2" height="2.10" fill="#7cc8f5" shape-rendering="crispEdges"/>
<rect x="581.11" y="575.00" width="30.2" height="1.00" fill="#10b981" shape-rendering="crispEdges"/>
<rect x="624.40" y="253.00" width="30.2" height="91.00" fill="url(#gT)" shape-rendering="crispEdges"/>
<rect x="624.40" y="346.00" width="30.2" height="66.90" fill="url(#bT)" shape-rendering="crispEdges"/>
<rect x="624.40" y="415.00" width="30.2" height="4.00" fill="url(#yT)" shape-rendering="crispEdges"/>
<rect x="624.40" y="421.00" width="30.2" height="2.10" fill="#7cc8f5" shape-rendering="crispEdges"/>
<rect x="624.40" y="425.00" width="30.2" height="1.00" fill="#10b981" shape-rendering="crispEdges"/>
<rect x="667.69" y="253.00" width="30.2" height="13.90" fill="url(#gT)" shape-rendering="crispEdges"/>
<rect x="667.69" y="269.00" width="30.2" height="42.00" fill="url(#bT)" shape-rendering="crispEdges"/>
<rect x="667.69" y="313.10" width="30.2" height="4.00" fill="url(#yT)" shape-rendering="crispEdges"/>
<rect x="667.69" y="319.10" width="30.2" height="3.00" fill="#7cc8f5" shape-rendering="crispEdges"/>
<rect x="710.98" y="255.00" width="30.2" height="2.10" fill="#7cc8f5" shape-rendering="crispEdges"/>
<rect x="800.00" y="1172.90" width="30.2" height="7.10" fill="url(#bB)" shape-rendering="crispEdges"/>
<rect x="843.29" y="1151.00" width="30.2" height="29.00" fill="url(#bB)" shape-rendering="crispEdges"/>
<rect x="843.29" y="1139.10" width="30.2" height="9.90" fill="url(#lB)" shape-rendering="crispEdges"/>
<rect x="843.29" y="1128.10" width="30.2" height="9.00" fill="url(#tB)" shape-rendering="crispEdges"/>
<rect x="843.29" y="1120.00" width="30.2" height="6.00" fill="url(#yB)" shape-rendering="crispEdges"/>
<rect x="843.29" y="1116.90" width="30.2" height="1.20" fill="#10b981" shape-rendering="crispEdges"/>
<rect x="843.29" y="1113.80" width="30.2" height="1.20" fill="#f0f0f0" shape-rendering="crispEdges"/>
<rect x="886.58" y="1130.00" width="30.2" height="50.00" fill="url(#bB)" shape-rendering="crispEdges"/>
<rect x="886.58" y="1118.10" width="30.2" height="10.00" fill="url(#lB)" shape-rendering="crispEdges"/>
<rect x="886.58" y="1107.10" width="30.2" height="8.90" fill="url(#tB)" shape-rendering="crispEdges"/>
<rect x="886.58" y="1099.00" width="30.2" height="6.00" fill="url(#yB)" shape-rendering="crispEdges"/>
<rect x="886.58" y="1095.90" width="30.2" height="1.20" fill="#10b981" shape-rendering="crispEdges"/>
<rect x="886.58" y="1092.80" width="30.2" height="1.20" fill="#f0f0f0" shape-rendering="crispEdges"/>
<rect x="929.87" y="1156.90" width="30.2" height="23.10" fill="url(#gB)" shape-rendering="crispEdges"/>
<rect x="929.87" y="1089.00" width="30.2" height="66.00" fill="url(#bB)" shape-rendering="crispEdges"/>
<rect x="929.87" y="1077.10" width="30.2" height="9.80" fill="url(#lB)" shape-rendering="crispEdges"/>
<rect x="929.87" y="1067.10" width="30.2" height="7.90" fill="url(#tB)" shape-rendering="crispEdges"/>
<rect x="929.87" y="1058.10" width="30.2" height="6.90" fill="url(#yB)" shape-rendering="crispEdges"/>
<rect x="929.87" y="1052.10" width="30.2" height="1.90" fill="#f0f0f0" shape-rendering="crispEdges"/>
<rect x="973.16" y="1078.10" width="30.2" height="101.90" fill="url(#gB)" shape-rendering="crispEdges"/>
<rect x="973.16" y="994.00" width="30.2" height="82.00" fill="url(#bB)" shape-rendering="crispEdges"/>
<rect x="973.16" y="982.10" width="30.2" height="9.80" fill="url(#lB)" shape-rendering="crispEdges"/>
<rect x="973.16" y="971.20" width="30.2" height="8.80" fill="url(#tB)" shape-rendering="crispEdges"/>
<rect x="973.16" y="962.10" width="30.2" height="6.90" fill="url(#yB)" shape-rendering="crispEdges"/>
<rect x="973.16" y="958.10" width="30.2" height="1.90" fill="#10b981" shape-rendering="crispEdges"/>
<rect x="973.16" y="955.00" width="30.2" height="1.30" fill="#f0f0f0" shape-rendering="crispEdges"/>
<rect x="1016.45" y="989.00" width="30.2" height="191.00" fill="url(#gB)" shape-rendering="crispEdges"/>
<rect x="1016.45" y="904.00" width="30.2" height="83.10" fill="url(#bB)" shape-rendering="crispEdges"/>
<rect x="1016.45" y="893.10" width="30.2" height="9.00" fill="url(#lB)" shape-rendering="crispEdges"/>
<rect x="1016.45" y="882.10" width="30.2" height="8.90" fill="url(#tB)" shape-rendering="crispEdges"/>
<rect x="1016.45" y="873.10" width="30.2" height="6.90" fill="url(#yB)" shape-rendering="crispEdges"/>
<rect x="1016.45" y="869.00" width="30.2" height="2.20" fill="#10b981" shape-rendering="crispEdges"/>
<rect x="1016.45" y="865.60" width="30.2" height="1.50" fill="#f0f0f0" shape-rendering="crispEdges"/>
<rect x="1059.74" y="989.00" width="30.2" height="191.00" fill="url(#gB)" shape-rendering="crispEdges"/>
<rect x="1059.74" y="904.00" width="30.2" height="83.10" fill="url(#bB)" shape-rendering="crispEdges"/>
<rect x="1059.74" y="893.10" width="30.2" height="9.00" fill="url(#lB)" shape-rendering="crispEdges"/>
<rect x="1059.74" y="882.10" width="30.2" height="8.90" fill="url(#tB)" shape-rendering="crispEdges"/>
<rect x="1059.74" y="873.10" width="30.2" height="6.90" fill="url(#yB)" shape-rendering="crispEdges"/>
<rect x="1059.74" y="869.00" width="30.2" height="2.20" fill="#10b981" shape-rendering="crispEdges"/>
<rect x="1059.74" y="865.60" width="30.2" height="1.50" fill="#f0f0f0" shape-rendering="crispEdges"/>
<rect x="1103.03" y="882.90" width="30.2" height="297.10" fill="url(#gB)" shape-rendering="crispEdges"/>
<rect x="1103.03" y="799.00" width="30.2" height="81.90" fill="url(#bB)" shape-rendering="crispEdges"/>
<rect x="1103.03" y="788.10" width="30.2" height="8.80" fill="url(#lB)" shape-rendering="crispEdges"/>
<rect x="1103.03" y="777.10" width="30.2" height="8.90" fill="url(#tB)" shape-rendering="crispEdges"/>
<rect x="1103.03" y="768.10" width="30.2" height="6.90" fill="url(#yB)" shape-rendering="crispEdges"/>
<rect x="1103.03" y="764.00" width="30.2" height="2.20" fill="#10b981" shape-rendering="crispEdges"/>
<rect x="1103.03" y="760.60" width="30.2" height="1.50" fill="#f0f0f0" shape-rendering="crispEdges"/>
<rect x="1146.32" y="882.90" width="30.2" height="297.10" fill="url(#gB)" shape-rendering="crispEdges"/>
<rect x="1146.32" y="799.00" width="30.2" height="81.90" fill="url(#bB)" shape-rendering="crispEdges"/>
<rect x="1146.32" y="788.10" width="30.2" height="8.80" fill="url(#lB)" shape-rendering="crispEdges"/>
<rect x="1146.32" y="777.10" width="30.2" height="8.90" fill="url(#tB)" shape-rendering="crispEdges"/>
<rect x="1146.32" y="768.10" width="30.2" height="6.90" fill="url(#yB)" shape-rendering="crispEdges"/>
<rect x="1146.32" y="764.00" width="30.2" height="2.20" fill="#10b981" shape-rendering="crispEdges"/>
<rect x="1146.32" y="760.60" width="30.2" height="1.50" fill="#f0f0f0" shape-rendering="crispEdges"/>
<g font-family='"Liberation Sans", sans-serif' font-weight="700" font-size="7.7" fill="#f6f6f6" text-anchor="middle">
<rect x="410.70" y="404.00" width="24.70" height="10.7" rx="2" fill="#fff" fill-opacity="0.17"/>
<text x="423.05" y="411.75" textLength="20.20" lengthAdjust="spacingAndGlyphs">$462k</text>
<rect x="410.70" y="607.40" width="24.70" height="10.7" rx="2" fill="#fff" fill-opacity="0.17"/>
<text x="423.05" y="615.15" textLength="20.20" lengthAdjust="spacingAndGlyphs">$132k</text>
<rect x="453.99" y="404.00" width="24.70" height="10.7" rx="2" fill="#fff" fill-opacity="0.17"/>
<text x="466.34" y="411.75" textLength="20.20" lengthAdjust="spacingAndGlyphs">$462k</text>
<rect x="453.99" y="607.40" width="24.70" height="10.7" rx="2" fill="#fff" fill-opacity="0.17"/>
<text x="466.34" y="615.15" textLength="20.20" lengthAdjust="spacingAndGlyphs">$132k</text>
<rect x="497.28" y="404.00" width="24.70" height="10.7" rx="2" fill="#fff" fill-opacity="0.17"/>
<text x="509.63" y="411.75" textLength="20.20" lengthAdjust="spacingAndGlyphs">$462k</text>
<rect x="497.28" y="607.40" width="24.70" height="10.7" rx="2" fill="#fff" fill-opacity="0.17"/>
<text x="509.63" y="615.15" textLength="20.20" lengthAdjust="spacingAndGlyphs">$132k</text>
<rect x="540.57" y="404.00" width="24.70" height="10.7" rx="2" fill="#fff" fill-opacity="0.17"/>
<text x="552.92" y="411.75" textLength="20.20" lengthAdjust="spacingAndGlyphs">$462k</text>
<rect x="540.57" y="607.40" width="24.70" height="10.7" rx="2" fill="#fff" fill-opacity="0.17"/>
<text x="552.92" y="615.15" textLength="20.20" lengthAdjust="spacingAndGlyphs">$132k</text>
<rect x="583.86" y="362.10" width="24.70" height="10.7" rx="2" fill="#fff" fill-opacity="0.17"/>
<text x="596.21" y="369.85" textLength="20.20" lengthAdjust="spacingAndGlyphs">$339k</text>
<rect x="583.86" y="518.30" width="24.70" height="10.7" rx="2" fill="#fff" fill-opacity="0.17"/>
<text x="596.21" y="526.05" textLength="20.20" lengthAdjust="spacingAndGlyphs">$117k</text>
<rect x="627.15" y="293.10" width="24.70" height="10.7" rx="2" fill="#fff" fill-opacity="0.17"/>
<text x="639.50" y="300.85" textLength="20.20" lengthAdjust="spacingAndGlyphs">$136k</text>
<rect x="627.15" y="374.10" width="24.70" height="10.7" rx="2" fill="#fff" fill-opacity="0.17"/>
<text x="639.50" y="381.85" textLength="20.20" lengthAdjust="spacingAndGlyphs">$101k</text>
<rect x="672.46" y="254.10" width="20.66" height="10.7" rx="2" fill="#fff" fill-opacity="0.17"/>
<text x="682.79" y="261.85" textLength="16.16" lengthAdjust="spacingAndGlyphs">$24k</text>
<rect x="672.46" y="284.30" width="20.66" height="10.7" rx="2" fill="#fff" fill-opacity="0.17"/>
<text x="682.79" y="292.05" textLength="16.16" lengthAdjust="spacingAndGlyphs">$64k</text>
<rect x="848.06" y="1160.10" width="20.66" height="10.7" rx="2" fill="#fff" fill-opacity="0.17"/>
<text x="858.39" y="1167.85" textLength="16.16" lengthAdjust="spacingAndGlyphs">$41k</text>
<rect x="891.35" y="1149.10" width="20.66" height="10.7" rx="2" fill="#fff" fill-opacity="0.17"/>
<text x="901.68" y="1156.85" textLength="16.16" lengthAdjust="spacingAndGlyphs">$68k</text>
<rect x="934.64" y="1163.00" width="20.66" height="10.7" rx="2" fill="#fff" fill-opacity="0.17"/>
<text x="944.97" y="1170.75" textLength="16.16" lengthAdjust="spacingAndGlyphs">$33k</text>
<rect x="934.64" y="1116.10" width="20.66" height="10.7" rx="2" fill="#fff" fill-opacity="0.17"/>
<text x="944.97" y="1123.85" textLength="16.16" lengthAdjust="spacingAndGlyphs">$89k</text>
<rect x="975.91" y="1122.90" width="24.70" height="10.7" rx="2" fill="#fff" fill-opacity="0.17"/>
<text x="988.26" y="1130.65" textLength="20.20" lengthAdjust="spacingAndGlyphs">$136k</text>
<rect x="975.91" y="1029.10" width="24.70" height="10.7" rx="2" fill="#fff" fill-opacity="0.17"/>
<text x="988.26" y="1036.85" textLength="20.20" lengthAdjust="spacingAndGlyphs">$110k</text>
<rect x="1019.20" y="1079.10" width="24.70" height="10.7" rx="2" fill="#fff" fill-opacity="0.17"/>
<text x="1031.55" y="1086.85" textLength="20.20" lengthAdjust="spacingAndGlyphs">$252k</text>
<rect x="1019.20" y="940.10" width="24.70" height="10.7" rx="2" fill="#fff" fill-opacity="0.17"/>
<text x="1031.55" y="947.85" textLength="20.20" lengthAdjust="spacingAndGlyphs">$110k</text>
<rect x="1062.49" y="1079.10" width="24.70" height="10.7" rx="2" fill="#fff" fill-opacity="0.17"/>
<text x="1074.84" y="1086.85" textLength="20.20" lengthAdjust="spacingAndGlyphs">$252k</text>
<rect x="1062.49" y="940.10" width="24.70" height="10.7" rx="2" fill="#fff" fill-opacity="0.17"/>
<text x="1074.84" y="947.85" textLength="20.20" lengthAdjust="spacingAndGlyphs">$110k</text>
<rect x="1105.78" y="1025.80" width="24.70" height="10.7" rx="2" fill="#fff" fill-opacity="0.17"/>
<text x="1118.13" y="1033.55" textLength="20.20" lengthAdjust="spacingAndGlyphs">$389k</text>
<rect x="1105.78" y="834.10" width="24.70" height="10.7" rx="2" fill="#fff" fill-opacity="0.17"/>
<text x="1118.13" y="841.85" textLength="20.20" lengthAdjust="spacingAndGlyphs">$110k</text>
<rect x="1149.07" y="1025.80" width="24.70" height="10.7" rx="2" fill="#fff" fill-opacity="0.17"/>
<text x="1161.42" y="1033.55" textLength="20.20" lengthAdjust="spacingAndGlyphs">$389k</text>
<rect x="1149.07" y="834.10" width="24.70" height="10.7" rx="2" fill="#fff" fill-opacity="0.17"/>
<text x="1161.42" y="841.85" textLength="20.20" lengthAdjust="spacingAndGlyphs">$110k</text>
</g>
<g font-family='"Liberation Sans", sans-serif' font-weight="700" font-size="12.5" fill="#ececec" text-anchor="middle" letter-spacing="-0.2">
<text x="423.05" y="691.30">$617k</text>
<text x="466.34" y="691.30">$617k</text>
<text x="509.63" y="691.30">$617k</text>
<text x="552.92" y="690.20">$616k</text>
<text x="596.21" y="595.00">$479k</text>
<text x="639.50" y="446.20">$260k</text>
<text x="682.79" y="343.10">$109k</text>
<text x="726.08" y="275.00">$10k</text>
<text x="769.37" y="269.10">$1.9k</text>
<text x="812.66" y="269.10">$1.5k</text>
<text x="815.10" y="1153.10">$16k</text>
<text x="858.39" y="1097.50">$89k</text>
<text x="901.68" y="1076.30">$116k</text>
<text x="944.97" y="1035.30">$169k</text>
<text x="988.26" y="938.20">$296k</text>
<text x="1031.55" y="849.40">$412k</text>
<text x="1074.84" y="849.40">$412k</text>
<text x="1118.13" y="743.40">$550k</text>
<text x="1161.42" y="743.40">$550k</text>
</g>
<g font-family='"Liberation Sans", sans-serif' font-weight="700" font-size="13" fill="#85878a">
<text x="313.4" y="717.8">End of Data</text><text x="1209.4" y="717.8">End of Data</text></g>
</svg>
<svg class="abs" style="left:650.5px;top:1243.5px" width="20" height="20" viewBox="0 0 20 20"><circle cx="9" cy="9" r="5.45" fill="none" stroke="#f2f2f2" stroke-width="1.9"/><path d="M13 13.2L17.2 16.4" stroke="#f2f2f2" stroke-width="2.1"/><path d="M6.5 9h5" stroke="#f2f2f2" stroke-width="1.1"/></svg>
<svg class="abs" style="left:956.5px;top:1243.5px" width="20" height="20" viewBox="0 0 20 20"><circle cx="9" cy="9" r="5.45" fill="none" stroke="#f2f2f2" stroke-width="1.9"/><path d="M13 13.2L17.2 16.4" stroke="#f2f2f2" stroke-width="2.1"/><path d="M6.5 9h5M9 6.5v5" stroke="#f2f2f2" stroke-width="1.1"/></svg>
<div class="abs" style="left:690px;top:1253px;width:251px;height:4.2px;border-radius:2px;background:#5d5f62"></div>
<div class="abs" style="left:690px;top:1252px;width:125px;height:6.2px;border-radius:1.5px;background:#d9dddd"></div>
<div class="abs" style="left:751.3px;top:1254.3px;width:1.4px;height:1.4px;background:#444"></div>
<div class="abs" style="left:876.2px;top:1254.3px;width:1.4px;height:1.4px;background:#ddd"></div>
<div class="abs" style="left:939.2px;top:1254.3px;width:1.4px;height:1.4px;background:#ddd"></div>
<div class="abs" style="left:800px;top:1240px;width:30px;height:19.8px;overflow:hidden"><div class="abs" style="left:5.2px;top:5px;width:20px;height:20px;border-radius:50%;background:#d9dddd"></div></div>
<div class="abs" style="left:804.2px;top:1219.2px;width:22px;height:23.6px;border-radius:4.5px;background:#5b5d61"></div>
<div class="t" style="left:804.2px;top:1224.6px;width:22px;text-align:center;font-size:12.2px;color:#f6f6f6;-webkit-text-stroke:0.2px #f6f6f6">5</div>
</div>
</body></html>
